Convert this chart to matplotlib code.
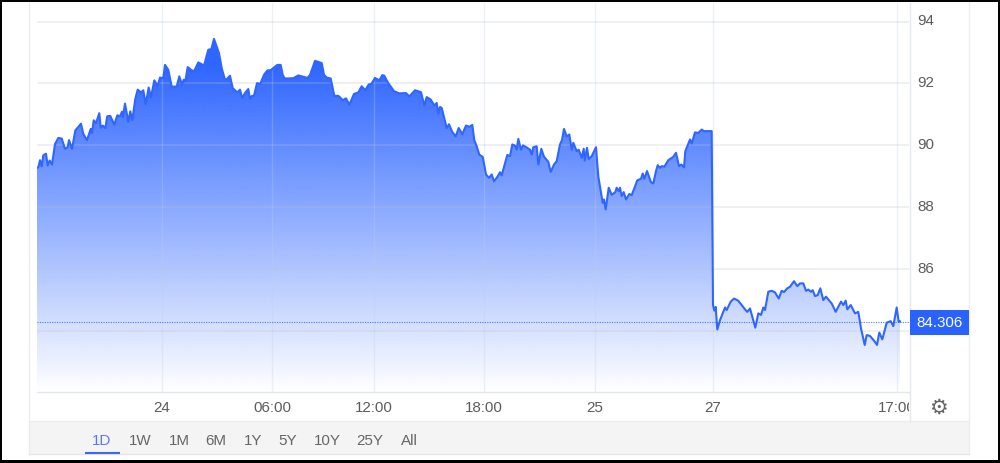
import numpy as np
import matplotlib
matplotlib.use("Agg")
import matplotlib.pyplot as plt
from matplotlib.patches import Rectangle
from matplotlib.transforms import Bbox, ScaledTranslation

plt.rcParams['font.family'] = ['Liberation Sans', 'DejaVu Sans']

# Horizontal chart position of each reading, and the price
positions = [37,38.3,40,41.7,43.3,46,47.7,49.7,52,55,58.3,61.7,65,67.7,69,72,75.3,78.7,81,83.3,87,90.7,92,93.7,96,99.3,100.7,102.7,105.3,107.3,110.3,114.3,117.3,120,122,123,125,128.3,130.3,132.3,135.3,137.7,141,143.3,145.7,148.7,151,154.3,157.7,160,163.3,165,168.3,171.7,176.7,179.3,182,183.7,185.3,187.7,191,194,198.3,204,208.3,211.3,214,219,221.7,224.7,226.3,230,232.7,237.3,240,242.3,245,248.3,250,252,254,257,260.3,264,267.3,270.7,277.3,280.7,282.7,284.7,293.3,298.3,300.7,307.3,310,315,321.7,324,326.7,330.7,334.3,338.3,
            340,342.7,346,349.3,354,358.3,361.7,365.3,368.7,371.3,375,379.3,382.3,384.3,388.3,394,399.3,406,409.3,415,421,424.3,426.7,430.7,434.3,436.7,438.3,440,441.7,446.7,449,452.3,455.7,458.7,462.3,466,469.3,472.3,474.3,476.7,479.3,482.7,486,489,491.7,494,497.3,500,501.7,507.3,510,512.3,515,516.7,518.3,521,523,527.3,530,531.7,533.3,536.7,538.3,541.3,544,548.3,550.7,554,556.7,560,562,564,566.7,569.3,571.7,573.3,576.7,578.7,581.7,583.7,584.7,587,588.7,591.7,596,598.3,602.7,604,605.7,608.7,611.7,615.3,616.7,618.7,620,621.7,623.7,626,629.3,631.7,637.3,641,642.7,644.3,647,651,653.3,656,657.7,660,661.7,664.3,668.3,673.3,676,679,681.3,684,685.3,690,691.7,695,698.3,701.7,704,711.7,
            713,714.3,715.7,717.3,720,723.3,725,726.7,730.7,734,738.3,745,747.3,750,752.7,755.3,758.3,761,763.3,765,768.3,771.7,775,778.7,781.7,784,787.3,790,794,797.3,800,803.3,806,808.3,811,812.7,815,817.7,820.3,823.3,826,831.7,835.7,841,843.3,845.7,847.3,850.7,855,858.3,861,864.7,866.7,870,874,877,879.3,882.3,886.7,890.7,893.3,896.7,898.7,900]

prices = [89.27,89.29,89.52,89.32,89.68,89.73,89.35,89.51,89.38,90.04,90.24,90.22,89.89,89.94,90.17,89.89,90.48,90.61,90.70,90.37,90.17,90.53,90.40,90.81,90.72,91.04,90.57,90.64,90.56,90.94,90.95,90.67,90.97,90.94,91.09,90.92,91.35,90.76,91.10,90.81,91.50,91.80,91.71,91.78,91.33,91.87,91.55,92.10,91.93,92.19,92.17,92.60,92.44,91.90,91.90,92.23,91.96,92.12,92.07,92.53,92.44,92.39,92.68,92.58,93.09,93.11,93.44,92.98,92.50,92.15,92.12,92.25,91.85,91.71,91.80,91.53,91.69,91.82,91.50,91.60,91.60,92.01,91.99,92.28,92.42,92.43,92.60,92.60,92.28,92.16,92.17,92.26,92.24,92.18,92.27,92.73,92.66,92.28,92.19,92.16,91.60,91.60,
          91.55,91.46,91.52,91.31,91.66,91.71,91.91,91.78,91.97,91.98,92.18,92.10,92.27,92.25,92.01,91.75,91.68,91.69,91.58,91.78,91.72,91.29,91.56,91.48,91.29,91.37,91.03,91.24,91.21,90.56,90.68,90.43,90.29,90.56,90.36,90.64,90.60,90.66,90.17,89.97,89.70,89.63,89.06,88.95,89.06,88.84,88.98,89.13,89.03,89.69,89.65,90.03,89.99,89.86,90.21,89.86,90.00,89.92,89.86,89.70,89.94,89.97,89.38,89.89,89.63,89.47,89.14,89.38,89.49,90.03,90.17,90.53,90.29,90.35,89.86,90.08,89.81,89.86,89.60,89.89,89.51,89.92,89.56,89.65,89.94,89.00,88.14,88.25,87.93,88.63,88.40,88.49,88.63,88.52,88.63,88.36,88.49,88.25,88.43,88.39,88.87,88.92,89.09,88.92,89.17,88.81,88.77,89.17,89.36,89.27,89.33,89.31,89.52,89.63,89.76,89.33,89.38,89.29,89.81,90.19,90.06,90.42,90.40,90.51,90.46,90.46,
          84.84,84.66,84.78,84.05,84.35,84.62,84.76,84.68,84.95,85.05,84.98,84.70,84.62,84.73,84.41,84.11,84.57,84.52,84.76,84.68,85.27,85.30,85.25,85.05,85.30,85.26,85.38,85.43,85.61,85.45,85.54,85.54,85.30,85.34,85.27,85.32,85.13,85.16,85.38,85.00,85.11,84.89,84.62,84.95,84.84,84.98,84.70,84.84,84.57,84.62,84.09,83.55,83.87,83.84,83.69,83.55,83.95,83.73,84.27,84.32,84.16,84.76,84.30,84.306]

last_price = 84.306
y_ticks = [84, 86, 88, 90, 92, 94]
y_tick_labels = ['', '86', '88', '90', '92', '94']
x_ticks = [162, 272, 374, 484, 595, 712.5, 897]
x_tick_labels = ['24', '06:00', '12:00', '18:00', '25', '27', '17:00']
ranges = ['1D', '1W', '1M', '6M', '1Y', '5Y', '10Y', '25Y', 'All']
range_centres = [102, 140, 179, 216, 253, 288, 327, 370, 409]

BLUE = '#2f66ff'
W, H = 1000, 463
fig = plt.figure(figsize=(10, 4.63), dpi=100, facecolor='white')

# page furniture, in pixel coordinates
bg = fig.add_axes([0, 0, 1, 1], zorder=0)
bg.set_xlim(0, W); bg.set_ylim(H, 0); bg.axis('off')
bg.add_patch(Rectangle((29, 421), 940, 33, fc='#f4f4f4', ec='none'))
bg.plot([29, 29], [0, 454], color='#e9ebee', lw=1.0)
bg.plot([969, 969], [0, 454], color='#eeeeee', lw=1.0)
bg.plot([29, 969], [454, 454], color='#e6e6e6', lw=1.0)
bg.plot([29, 969], [421, 421], color='#eeeeee', lw=1.0)
bg.plot([909.5, 909.5], [3, 421], color='#e6e9ed', lw=1.0)
for label, cx in zip(ranges, range_centres):
    active = label == '1D'
    bg.text(cx, 441, label, ha='center', va='center', fontsize=10.9,
            color='#5f74ff' if active else '#666666')
bg.plot([85, 120], [453, 453], color='#3d66ee', lw=1.5, solid_capstyle='butt')
bg.text(938.5, 408, '\u2699', ha='center', va='center', fontsize=15,
        color='#666666', family=['DejaVu Sans'])

# chart
ax = fig.add_axes([37 / W, (H - 392) / H, (909 - 37) / W, (392 - 3) / H], zorder=1)
ax.patch.set_alpha(0)
ax.set_xlim(37, 909)
ax.set_ylim(82.03, 94.60)

poly = ax.fill_between(positions, prices, 82.03, color='none', lw=0)
grad = np.zeros((256, 1, 4))
grad[..., 0], grad[..., 1], grad[..., 2] = 0x2f / 255, 0x66 / 255, 1.0
grad[:, 0, 3] = np.clip(np.linspace(1.1, 0.0, 256), 0, 1)
im = ax.imshow(grad, extent=[37, 900, 82.03, 93.6], aspect='auto', origin='upper',
               zorder=1, interpolation='bilinear')
im.set_clip_path(poly.get_paths()[0], ax.transData)
ax.set_xlim(37, 909)
ax.set_ylim(82.03, 94.60)

ax.set_xticks(x_ticks, x_tick_labels)
ax.set_yticks(y_ticks, y_tick_labels)
ax.yaxis.tick_right()
ax.tick_params(axis='both', length=0, labelsize=10.9, labelcolor='#5c5c5c')
ax.tick_params(axis='x', pad=6.5)
ax.tick_params(axis='y', pad=6)
ax.set_axisbelow(False)
ax.grid(axis='y', color='#b9c0cc', alpha=0.28, lw=1.2, zorder=2)
ax.grid(axis='x', color='#bcd0e6', alpha=0.28, lw=1.0, zorder=2)
for side in ['top', 'left', 'right']:
    ax.spines[side].set_visible(False)
ax.spines['bottom'].set_color('#e4e6ea')
ax.spines['bottom'].set_linewidth(1.0)

clip = Bbox([[0, 0], [909, H]])
for lab in ax.get_xticklabels():
    lab.set_clip_box(clip)
    lab.set_clip_on(True)
nudge = ScaledTranslation(0, 1.5 / 72, fig.dpi_scale_trans)
for lab in ax.get_yticklabels():
    lab.set_transform(lab.get_transform() + nudge)

ax.plot(positions, prices, color=BLUE, lw=1.5, zorder=4, solid_joinstyle='round')
ax.axhline(last_price, color=BLUE, lw=0.8, ls=(0, (1, 1.2)), alpha=0.85, zorder=3)

# overlay: price tag and picture frame
top = fig.add_axes([0, 0, 1, 1], zorder=5)
top.set_xlim(0, W); top.set_ylim(H, 0); top.axis('off'); top.patch.set_alpha(0)
top.add_patch(Rectangle((910, 310), 59, 25, fc='#2962ff', ec='none'))
top.text(939.5, 323, f'{last_price:.3f}', ha='center', va='center', color='white', fontsize=10.9)
for xy, w, h in [((0, 0), W, 2), ((0, 460), W, 3), ((0, 0), 2, H), ((997.5, 0), 2.5, H)]:
    top.add_patch(Rectangle(xy, w, h, fc='black', ec='none'))

fig.savefig('out.png', dpi=100)
